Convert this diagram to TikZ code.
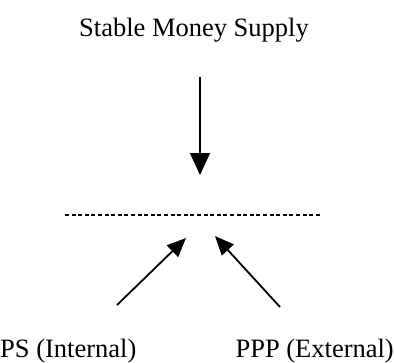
\documentclass[tikz,border=0pt]{standalone}
\usepackage{fontspec}
\setmainfont{Liberation Serif}
\usetikzlibrary{arrows.meta}
\begin{document}
\begin{tikzpicture}[x=1pt,y=-1pt,
  lbl/.style={inner sep=0pt,font=\fontsize{26.5}{31}\selectfont},
  conn/.style={line width=1.6pt,-{Triangle[length=22pt,width=20pt]}},
  diag/.style={line width=1.8pt,-{Triangle[length=19pt,width=16pt]}},
  dline/.style={line width=1.3pt,dash pattern=on 4pt off 2.6pt}]
\useasboundingbox (0,0) rectangle (394,362);
\node[lbl,anchor=base] (sms) at (194,36) {Stable Money Supply};
\coordinate (top) at (200,77);
\coordinate (mid) at (200,175);
\node[lbl,anchor=base west] (ps) at (0,357) {PS (Internal)};
\node[lbl,anchor=base east] (ppp) at (394,357) {PPP (External)};
\coordinate (dl) at (65,215);
\coordinate (dr) at (322,215);
\coordinate (ls) at (117,305);
\coordinate (lt) at (186,238);
\coordinate (rs) at (280,307);
\coordinate (rt) at (215,236);
\draw[conn] (top) -- (mid);
\draw[dline] (dl) -- (dr);
\draw[diag] (ls) -- (lt);
\draw[diag] (rs) -- (rt);
\end{tikzpicture}
\end{document}
